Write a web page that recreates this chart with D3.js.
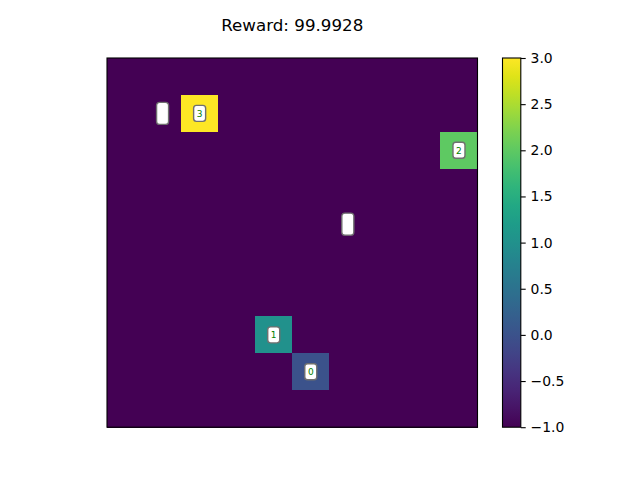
<!DOCTYPE html>
<html><head><meta charset="utf-8">
<script src="https://cdn.jsdelivr.net/npm/d3@7"></script>
<style>body{margin:0;background:#fff;} text{font-family:"DejaVu Sans",sans-serif;}</style>
</head><body>
<svg id="chart" width="640" height="480"></svg>
<script>
const titleText = "Reward: 99.9928";
const gridSize = 10;
const backgroundValue = -1;
const cellRows = [1, 2, 7, 8];
const cellCols = [2, 9, 4, 5];
const cellValues = [3, 2, 1, 0];
const cellLabels = ["3", "2", "1", "0"];
const emptyRows = [1, 4];
const emptyCols = [1, 6];
const colorDomain = [-1, 3];
const colorTicks = [-1.0, -0.5, 0.0, 0.5, 1.0, 1.5, 2.0, 2.5, 3.0];

const svg = d3.select("#chart");
const pLeft = 107, pTop = 58, pRight = 477.5, pBottom = 427.2;
const idx = d3.range(gridSize);
const x = d3.scaleBand().domain(idx).range([pLeft, pRight]);
const y = d3.scaleBand().domain(idx).range([pTop, pBottom]);
const color = d3.scaleSequential(d3.interpolateViridis).domain(colorDomain);

const grid = idx.map(() => idx.map(() => backgroundValue));
cellRows.forEach((r, i) => { grid[r][cellCols[i]] = cellValues[i]; });
const cells = [];
idx.forEach(r => idx.forEach(c => cells.push({r, c, v: grid[r][c]})));

svg.append("g").selectAll("rect").data(cells).join("rect")
  .attr("x", d => x(d.c)).attr("y", d => y(d.r))
  .attr("width", x.bandwidth() + 0.5).attr("height", y.bandwidth() + 0.5)
  .attr("fill", d => color(d.v))
  .attr("shape-rendering", "crispEdges");

svg.append("rect").attr("x", pLeft).attr("y", pTop)
  .attr("width", pRight - pLeft).attr("height", pBottom - pTop)
  .attr("fill", "none").attr("stroke", "#000").attr("stroke-width", 1.1);

const labels = cellRows.map((r, i) => ({r, c: cellCols[i], t: cellLabels[i]}));
const lg = svg.append("g").selectAll("g").data(labels).join("g")
  .attr("transform", d => `translate(${x(d.c) + x.bandwidth()/2},${y(d.r) + y.bandwidth()/2})`);
lg.append("rect").attr("x", -6).attr("y", -8).attr("width", 12).attr("height", 16)
  .attr("rx", 2.8).attr("fill", "#fff").attr("stroke", "#707070").attr("stroke-width", 1.4);
lg.append("text").attr("text-anchor", "middle").attr("dy", "0.36em")
  .attr("font-size", 9).attr("fill", "green").text(d => d.t);

const empties = emptyRows.map((r, i) => ({r, c: emptyCols[i]}));
svg.append("g").selectAll("rect").data(empties).join("rect")
  .attr("x", d => x(d.c) + x.bandwidth()/2 - 6)
  .attr("y", d => y(d.r) + y.bandwidth()/2 - 11)
  .attr("width", 12).attr("height", 22).attr("rx", 3.2)
  .attr("fill", "#fff").attr("stroke", "#707070").attr("stroke-width", 1.4);

svg.append("text").attr("x", (pLeft + pRight)/2).attr("y", 31)
  .attr("text-anchor", "middle").attr("font-size", 16.7).text(titleText);

const cbx = 502.5, cbw = 18.3;
const cy = d3.scaleLinear().domain(colorDomain).range([pBottom, pTop]);
const defs = svg.append("defs");
const grad = defs.append("linearGradient").attr("id", "cbgrad")
  .attr("x1", 0).attr("y1", 1).attr("x2", 0).attr("y2", 0);
d3.range(0, 1.0001, 0.05).forEach(t => {
  grad.append("stop").attr("offset", t).attr("stop-color", d3.interpolateViridis(t));
});
svg.append("rect").attr("x", cbx).attr("y", pTop).attr("width", cbw).attr("height", pBottom - pTop)
  .attr("fill", "url(#cbgrad)").attr("stroke", "#000").attr("stroke-width", 1.1);

const axis = d3.axisRight(cy).tickValues(colorTicks).tickSize(4.9).tickPadding(4.9)
  .tickFormat(d => d3.format(".1f")(d).replace("-", "\u2212"));
const ag = svg.append("g").attr("transform", `translate(${cbx + cbw},0)`).call(axis);
ag.select(".domain").remove();
ag.selectAll("line").attr("stroke", "#000").attr("stroke-width", 1.1);
ag.selectAll("text").attr("font-size", 13.9).attr("font-family", "DejaVu Sans").attr("fill", "#000");
</script>
</body></html>
